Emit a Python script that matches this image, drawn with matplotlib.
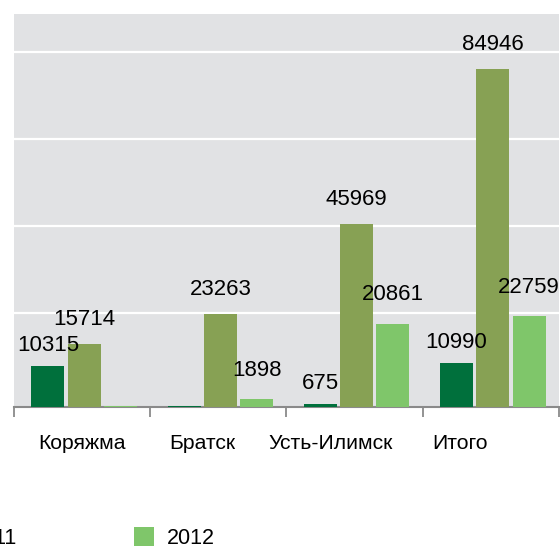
import matplotlib
matplotlib.use('Agg')
import matplotlib.pyplot as plt

plt.rcParams['font.family'] = ['Liberation Sans', 'DejaVu Sans']

CATEGORIES = ['Коряжма', 'Братск', 'Усть-Илимск', 'Итого']
SERIES = ['2010', '2011', '2012']
VALUES_2010 = [10315, 300, 675, 10990]
VALUES_2011 = [15714, 23263, 45969, 84946]
VALUES_2012 = [350, 1898, 20861, 22759]

COLORS = ['#00703c', '#87a154', '#7fc66a']
LABEL_PAD = [15, 18, 21]          # points above bar top, per series
CAT_SHIFT = [0.0, -0.114, -0.175, -0.228]
GRID_VALUES = [23600, 45500, 67400, 89300]


def main():
    fig = plt.figure(figsize=(5.6, 5.49), dpi=100)
    ax = fig.add_axes([0.025, 0.2587, 0.973, 0.7158])
    ax.set_facecolor('#e1e2e4')

    series_vals = [VALUES_2010, VALUES_2011, VALUES_2012]
    x = list(range(len(CATEGORIES)))
    width = 0.242
    step = 0.266
    for j, vals in enumerate(series_vals):
        xs = [i + 0.015 + (j - 1) * step for i in x]
        bars = ax.bar(xs, vals, width, color=COLORS[j], label=SERIES[j], zorder=3)
        for b, v in zip(bars, vals):
            if v < 500:
                continue
            ax.annotate(str(v), (b.get_x() + b.get_width() / 2, v),
                        xytext=(0, LABEL_PAD[j]), textcoords='offset points',
                        ha='center', va='center', fontsize=16, zorder=4)

    ax.set_xlim(-0.5, len(CATEGORIES) - 0.5)
    ax.set_ylim(0, 98800)

    ax.set_yticks(GRID_VALUES)
    ax.grid(axis='y', color='white', linewidth=1.6, zorder=1)
    ax.tick_params(axis='y', left=False, labelleft=False)

    ax.set_xticks([i - 0.5 for i in range(len(CATEGORIES) + 1)])
    ax.tick_params(axis='x', direction='out', length=7.5, width=1.3,
                   color='#8a8a8a', labelbottom=False)
    for i, name in enumerate(CATEGORIES):
        ax.text(i + CAT_SHIFT[i], -0.094, name, transform=ax.get_xaxis_transform(),
                ha='center', va='center', fontsize=15.2)

    for side in ['left', 'right', 'top']:
        ax.spines[side].set_visible(False)
    ax.spines['bottom'].set_color('#8a8a8a')
    ax.spines['bottom'].set_linewidth(1.5)
    ax.set_axisbelow(True)

    handles, labels = ax.get_legend_handles_labels()
    fig.legend(handles, labels, loc='center', bbox_to_anchor=(-0.04, 0.02),
               ncol=3, frameon=False, fontsize=15.5,
               handlelength=0.93, handleheight=0.93, handletextpad=0.62,
               columnspacing=5.4)

    fig.savefig('out.png', dpi=100)


if __name__ == '__main__':
    main()
